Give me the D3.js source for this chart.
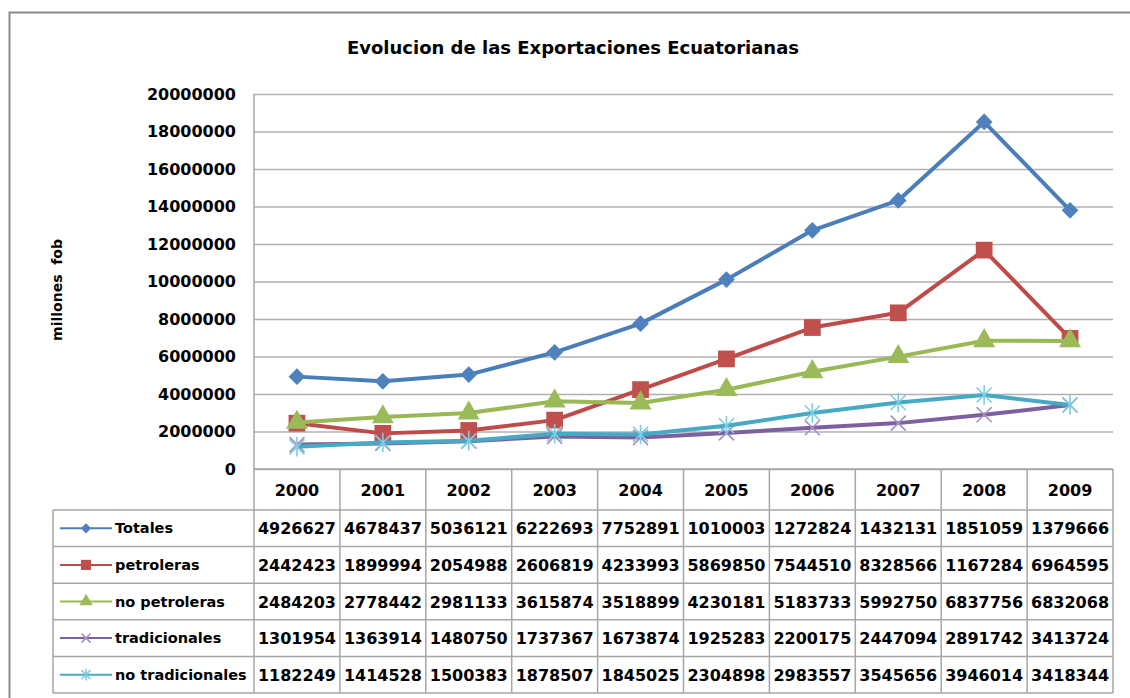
<!DOCTYPE html>
<html>
<head>
<meta charset="utf-8">
<script src="https://cdn.jsdelivr.net/npm/d3@7"></script>
<style>
  body { margin: 0; background: #fff; }
  svg { display: block; }
</style>
</head>
<body>
<script>
const years = ["2000", "2001", "2002", "2003", "2004", "2005", "2006", "2007", "2008", "2009"];
const seriesNames = ["Totales", "petroleras", "no petroleras", "tradicionales", "no tradicionales"];
const totales = [4926627, 4678437, 5036121, 6222693, 7752891, 10100030, 12728240, 14321310, 18510590, 13796660];
const petroleras = [2442423, 1899994, 2054988, 2606819, 4233993, 5869850, 7544510, 8328566, 11672840, 6964595];
const noPetroleras = [2484203, 2778442, 2981133, 3615874, 3518899, 4230181, 5183733, 5992750, 6837756, 6832068];
const tradicionales = [1301954, 1363914, 1480750, 1737367, 1673874, 1925283, 2200175, 2447094, 2891742, 3413724];
const noTradicionales = [1182249, 1414528, 1500383, 1878507, 1845025, 2304898, 2983557, 3545656, 3946014, 3418344];
const yTicks = [0, 2000000, 4000000, 6000000, 8000000, 10000000, 12000000, 14000000, 16000000, 18000000, 20000000];

const width = 1130, height = 698;
const font = "'DejaVu Sans', sans-serif";

const series = [
  {name: seriesNames[0], values: totales, line: "#4A7EBB", fill: "#4F81BD", shape: "diamond"},
  {name: seriesNames[1], values: petroleras, line: "#BE4B48", fill: "#C0504D", shape: "square"},
  {name: seriesNames[2], values: noPetroleras, line: "#98B954", fill: "#9BBB59", shape: "triangle"},
  {name: seriesNames[3], values: tradicionales, line: "#7D60A0", fill: "#A48FC0", shape: "x"},
  {name: seriesNames[4], values: noTradicionales, line: "#46AAC5", fill: "#7FCBE0", shape: "star"}
];

const svg = d3.select("body").append("svg")
    .attr("width", width)
    .attr("height", height)
    .style("font-family", font);

// outer chart frame (runs off the right and bottom of the picture)
svg.append("rect")
    .attr("x", 9.5).attr("y", 12.5)
    .attr("width", 1140).attr("height", 700)
    .attr("fill", "none")
    .attr("stroke", "#8C8C8C")
    .attr("stroke-width", 2);

svg.append("text")
    .attr("x", 573).attr("y", 54)
    .attr("text-anchor", "middle")
    .style("font-size", "18px")
    .style("font-weight", "bold")
    .text("Evolucion de las Exportaciones Ecuatorianas");

const x = d3.scaleBand().domain(years).range([254, 1113]);
const y = d3.scaleLinear().domain([0, 20000000]).range([469, 94]);

// gridlines
svg.append("g")
    .attr("transform", "translate(254,0)")
    .call(d3.axisLeft(y).tickValues(yTicks).tickSize(-(1113 - 254)).tickFormat(""))
    .call(g => g.select(".domain").remove())
    .call(g => g.selectAll("line").attr("stroke", "#B0B0B0").attr("stroke-width", 1.5));

// y labels
svg.append("g")
    .attr("transform", "translate(236,0)")
    .call(d3.axisLeft(y).tickValues(yTicks).tickSize(0).tickPadding(0).tickFormat(d3.format("d")))
    .call(g => g.select(".domain").remove())
    .call(g => g.selectAll("text")
        .attr("fill", "#000")
        .style("font-family", font)
        .style("font-size", "16px")
        .style("font-weight", "bold"));

svg.append("text")
    .attr("transform", "translate(62,290) rotate(-90)")
    .attr("text-anchor", "middle")
    .style("font-size", "14px")
    .style("font-weight", "bold")
    .attr("xml:space", "preserve")
    .text("millones  fob");

// table
const rowTop = 510, rowH = 36.6, legendLeft = 53;
const tableBottom = rowTop + rowH * series.length;
const grid = svg.append("g").attr("stroke", "#A6A6A6").attr("stroke-width", 1.5);
grid.append("line").attr("x1", 254).attr("x2", 254).attr("y1", 94).attr("y2", tableBottom);
years.forEach(yr => {
  grid.append("line")
      .attr("x1", x(yr) + x.bandwidth()).attr("x2", x(yr) + x.bandwidth())
      .attr("y1", 469).attr("y2", tableBottom);
});
grid.append("line").attr("x1", legendLeft).attr("x2", legendLeft).attr("y1", rowTop).attr("y2", tableBottom);
d3.range(series.length + 1).forEach(i => {
  grid.append("line")
      .attr("x1", legendLeft).attr("x2", 1113)
      .attr("y1", rowTop + i * rowH).attr("y2", rowTop + i * rowH);
});
grid.append("line").attr("x1", 254).attr("x2", 1113).attr("y1", 469).attr("y2", 469);

svg.append("g").selectAll("text")
  .data(years)
  .join("text")
    .attr("x", d => x(d) + x.bandwidth() / 2)
    .attr("y", 496)
    .attr("text-anchor", "middle")
    .style("font-size", "16px")
    .style("font-weight", "bold")
    .text(d => d);

function marker(g, s, size) {
  const k = size / 14;
  if (s.shape === "diamond") {
    g.append("path").attr("d", d3.symbol(d3.symbolSquare, 140 * k * k)())
        .attr("transform", "rotate(45)").attr("fill", s.fill);
  } else if (s.shape === "square") {
    g.append("path").attr("d", d3.symbol(d3.symbolSquare, 280 * k * k)()).attr("fill", s.fill);
  } else if (s.shape === "triangle") {
    g.append("path").attr("d", d3.symbol(d3.symbolTriangle, 210 * k * k)()).attr("fill", s.fill);
  } else {
    const r = 7.5 * k;
    const p = d3.path();
    p.moveTo(-r, -r); p.lineTo(r, r);
    p.moveTo(-r, r); p.lineTo(r, -r);
    if (s.shape === "star") { p.moveTo(0, -r * 1.3); p.lineTo(0, r * 1.3); }
    g.append("path").attr("d", p.toString())
        .attr("fill", "none").attr("stroke", s.fill).attr("stroke-width", 1.6);
  }
}

const line = d3.line().x((d, i) => x(years[i]) + x.bandwidth() / 2).y(d => y(d));

series.forEach(s => {
  svg.append("path")
      .datum(s.values)
      .attr("fill", "none")
      .attr("stroke", s.line)
      .attr("stroke-width", 4)
      .attr("stroke-linejoin", "round")
      .attr("d", line);
  s.values.forEach((v, i) => {
    const g = svg.append("g")
        .attr("transform", `translate(${x(years[i]) + x.bandwidth() / 2},${y(v)})`);
    marker(g, s, 14);
  });
});

// table rows
series.forEach((s, r) => {
  const cy = rowTop + r * rowH + rowH / 2;
  svg.append("line")
      .attr("x1", 60).attr("x2", 112).attr("y1", cy).attr("y2", cy)
      .attr("stroke", s.line).attr("stroke-width", 2);
  const g = svg.append("g").attr("transform", `translate(86,${cy})`);
  marker(g, s, 8.5);
  svg.append("text")
      .attr("x", 115).attr("y", cy + 5)
      .style("font-size", "14.5px")
      .style("font-weight", "bold")
      .text(s.name);
  svg.append("g").selectAll("text")
    .data(s.values)
    .join("text")
      .attr("x", (d, i) => x(years[i]) + x.bandwidth() / 2)
      .attr("y", cy + 6)
      .attr("text-anchor", "middle")
      .style("font-size", "16px")
      .style("font-weight", "bold")
      .text(d => String(d).slice(0, 7));
});
</script>
</body>
</html>
